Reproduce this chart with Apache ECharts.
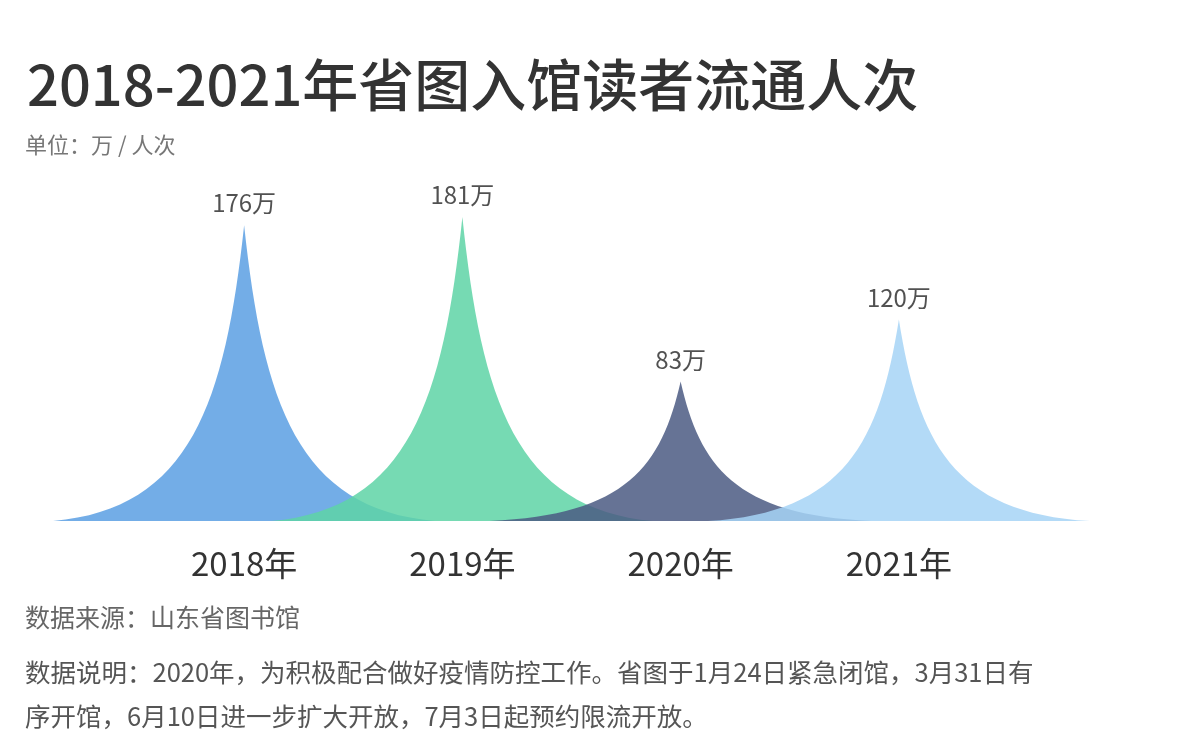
<!DOCTYPE html><html><head><meta charset="utf-8">
<script src="https://cdn.jsdelivr.net/npm/echarts@6/dist/echarts.min.js"></script>
<style>body{margin:0;background:#fff}#c{width:1200px;height:756px}</style></head><body><div id="c"></div>
<script>
const categories=['2018年','2019年','2020年','2021年'];
const values=[176,181,83,120];
const colors=['#5b9fe3','#5ed3a6','#4b5a82','#a6d3f6'];
const chart=echarts.init(document.getElementById('c'));
const spike='path://M0,10 C3.6,9.6 4.5,6 5,0 C5.5,6 6.4,9.6 10,10 z';
const F='Noto Sans CJK SC';
chart.setOption({
 backgroundColor:'#fff',
 title:{text:'2018-2021年省图入馆读者流通人次',left:22,top:52,textStyle:{fontSize:56,fontWeight:500,color:'#333',fontFamily:F}},
 graphic:[
  {type:'text',left:25,top:134,style:{text:'单位：万 / 人次',fontSize:22,fill:'#777',fontFamily:F}},
  {type:'text',left:25,top:605,style:{text:'数据来源：山东省图书馆',fontSize:25,fill:'#666',fontFamily:F}},
  {type:'text',left:25,top:650,style:{text:'数据说明：2020年，为积极配合做好疫情防控工作。省图于1月24日紧急闭馆，3月31日有\n序开馆，6月10日进一步扩大开放，7月3日起预约限流开放。',fontSize:25.5,lineHeight:44,fill:'#555',fontFamily:F}}
 ],
 grid:{left:135,right:192,top:185,bottom:235},
 xAxis:{type:'category',data:categories,axisLine:{show:false},axisTick:{show:false},
  axisLabel:{fontSize:33,color:'#333',margin:26,fontFamily:F}},
 yAxis:{type:'value',min:0,max:200,show:false,splitLine:{show:false}},
 series:[{type:'pictorialBar',symbol:spike,symbolSize:['175%','100%'],barCategoryGap:'0%',
  data:values.map((v,i)=>({value:v,itemStyle:{color:colors[i],opacity:0.85}})),
  label:{show:true,position:'top',distance:10,formatter:'{c}万',fontSize:24,color:'#333',fontFamily:F}}]
});
</script></body></html>
